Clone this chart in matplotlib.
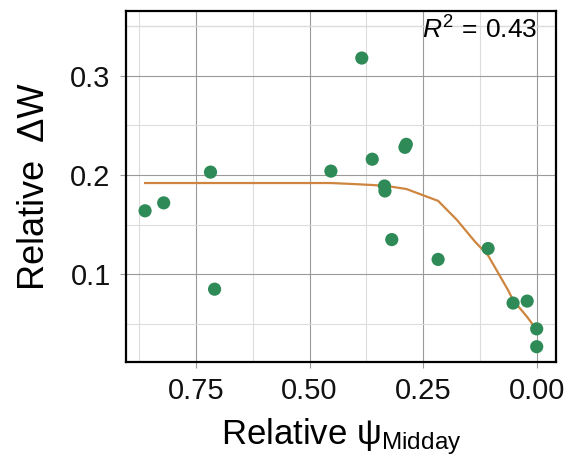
import numpy as np
import matplotlib
matplotlib.use('Agg')
import matplotlib.pyplot as plt
from matplotlib.ticker import MultipleLocator

plt.rcParams['font.family'] = ['Liberation Sans', 'DejaVu Sans']
plt.rcParams['mathtext.fontset'] = 'custom'
plt.rcParams['mathtext.rm'] = 'Liberation Sans'
plt.rcParams['mathtext.it'] = 'Liberation Sans:italic'

# observed points (relative psi midday, relative delta W)
psi = [0.862, 0.821, 0.718, 0.709, 0.453, 0.385, 0.362, 0.290, 0.287,
       0.335, 0.334, 0.319, 0.217, 0.107, 0.052, 0.021, 0.0, 0.0]
dw = [0.164, 0.172, 0.203, 0.085, 0.204, 0.318, 0.216, 0.228, 0.231,
      0.189, 0.184, 0.135, 0.115, 0.126, 0.071, 0.073, 0.045, 0.027]

# fitted curve
fit_x = [0.862, 0.821, 0.718, 0.709, 0.517, 0.453, 0.404, 0.362, 0.330,
         0.287, 0.217, 0.176, 0.136, 0.107, 0.063, 0.052, 0.021, 0.0]
fit_y = [0.192, 0.192, 0.192, 0.192, 0.192, 0.192, 0.191, 0.190, 0.189,
         0.186, 0.174, 0.155, 0.133, 0.119, 0.084, 0.074, 0.057, 0.044]

r2 = 0.43

fig = plt.figure(figsize=(5.68, 4.57), dpi=100)
ax = fig.add_axes([0.2218, 0.2079, 0.9789 - 0.2218, 0.9759 - 0.2079])

ax.set_xlim(0.904, -0.0425)
ax.set_ylim(0.0116, 0.3654)

ax.xaxis.set_major_locator(MultipleLocator(0.25))
ax.xaxis.set_minor_locator(MultipleLocator(0.125))
ax.yaxis.set_major_locator(MultipleLocator(0.1))
ax.yaxis.set_minor_locator(MultipleLocator(0.05))
ax.xaxis.set_major_formatter(lambda v, p: '{:.2f}'.format(abs(v)))
ax.yaxis.set_major_formatter(lambda v, p: '{:.1f}'.format(v))

ax.grid(which='major', color='#9a9a9a', linewidth=0.8)
ax.grid(which='minor', color='#dcdcdc', linewidth=0.8)
ax.axhline(0.35, color='#9a9a9a', linewidth=0.8, zorder=0.5)
ax.set_axisbelow(True)

ax.plot(fit_x, fit_y, color='#CD853F', linewidth=1.6, zorder=3)
ax.scatter(psi, dw, s=90, color='#2E8B57', edgecolors='none', zorder=4)

ax.text(0.956, 0.985, r'$R^2\,=\,$' + '{:.2f}'.format(r2),
        transform=ax.transAxes, ha='right', va='top', fontsize=19)

for sp in ax.spines.values():
    sp.set_linewidth(1.6)
    sp.set_color('black')

ax.tick_params(which='major', direction='out', length=4, width=0.8, color='#9a9a9a',
               labelsize=21, labelcolor='#111111')
ax.tick_params(axis='x', which='major', pad=7)
ax.tick_params(axis='y', which='major', pad=7)
ax.tick_params(which='minor', length=0)

ax.set_xlabel(r'Relative $\mathrm{\psi}_{\mathrm{Midday}}$', fontsize=25, labelpad=8)
ax.set_ylabel('Relative  \u0394W', fontsize=26, labelpad=13)

fig.savefig('out.png', dpi=100)
